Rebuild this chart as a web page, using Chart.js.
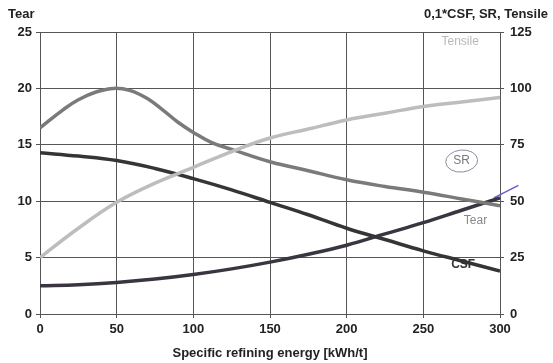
<!DOCTYPE html>
<html><head><meta charset="utf-8">
<script src="https://cdn.jsdelivr.net/npm/chart.js@4"></script>
<style>html,body{margin:0;padding:0;background:#fff}#wrap{width:553px;height:363px}</style>
</head><body><div id="wrap"><canvas id="c" width="553" height="363"></canvas></div>
<script>
const energy = [0,25,50,75,100,125,150,175,200,225,250,275,300];
const tear    = [14.3,14.0,13.6,12.9,12.0,11.0,9.9,8.8,7.6,6.6,5.6,4.7,3.8];
const csf01   = [12.5,13,14,15.5,17.5,20,23,26.5,30.5,35.5,40.5,46,51.5];
const tensile = [25,38,49.5,58,65,72,78,82,86,89,92,94,96];
const srEnergy = [0,15,25,37,48,59,70,80,90,100,112,125,150,175,200,225,250,275,300];
const sr       = [82.5,90.5,95,98.5,100,99,95.5,90.5,85,80.5,76,73,67.5,63.5,59.5,56.5,54,51,48];
const penX = [296,312];
const penY = [51.5,57];
const xTicks = [0,50,100,150,200,250,300];
const leftTicks = [0,5,10,15,20,25];
const rightTicks = [0,25,50,75,100,125];

const pts = (xs, ys) => xs.map((x,i)=>({x, y: ys[i]}));
const FONT = "'Liberation Sans', Arial, sans-serif";

const labels = {
  id:'labels',
  afterDatasetsDraw(chart){
    const {ctx, scales:{x,y,y1}} = chart;
    ctx.save();
    ctx.textAlign='center'; ctx.textBaseline='middle';
    ctx.font = `12px ${FONT}`;
    ctx.fillStyle='#b8b8b8';
    ctx.fillText('Tensile', x.getPixelForValue(274), y1.getPixelForValue(120.5));
    ctx.fillStyle='#777';
    ctx.fillText('SR', x.getPixelForValue(275), y1.getPixelForValue(67.8));
    ctx.strokeStyle='#8a8aa0'; ctx.lineWidth=1;
    ctx.beginPath();
    ctx.ellipse(x.getPixelForValue(275), y1.getPixelForValue(67.8), 16, 11, -0.1, 0, Math.PI*2);
    ctx.stroke();
    ctx.fillStyle='#888';
    ctx.fillText('Tear', x.getPixelForValue(284), y.getPixelForValue(8.3));
    ctx.font = `bold 12px ${FONT}`;
    ctx.fillStyle='#333';
    ctx.fillText('CSF', x.getPixelForValue(276), y.getPixelForValue(4.4));
    ctx.font = `bold 13px ${FONT}`;
    ctx.fillStyle='#222';
    ctx.textAlign='left';
    ctx.fillText('Tear', 8, 14);
    ctx.textAlign='right';
    ctx.fillText('0,1*CSF, SR, Tensile', 548, 14);
    ctx.restore();
  }
};

new Chart(document.getElementById('c'), {
  type:'line',
  data:{datasets:[
    {label:'Tensile', data:pts(energy,tensile), yAxisID:'y1', borderColor:'#bdbdbd', borderWidth:3.5},
    {label:'SR', data:pts(srEnergy,sr), yAxisID:'y1', borderColor:'#7a7a7a', borderWidth:3.5},
    {label:'Tear', data:pts(energy,tear), yAxisID:'y', borderColor:'#353535', borderWidth:3.5},
    {label:'0,1*CSF', data:pts(energy,csf01), yAxisID:'y1', borderColor:'#3a3540', borderWidth:3.5},
    {label:'pen', data:pts(penX,penY), yAxisID:'y1', borderColor:'#6a5ad0', borderWidth:1.5, clip:false, tension:0}
  ]},
  options:{
    responsive:false, animation:false,
    layout:{padding:{top:32,left:0,right:0,bottom:0}},
    elements:{point:{radius:0}, line:{tension:0.4}},
    plugins:{legend:{display:false}, tooltip:{enabled:false}},
    scales:{
      x:{type:'linear', min:0, max:300,
        afterBuildTicks:s=>{s.ticks=xTicks.map(v=>({value:v}));},
        afterFit:s=>{s.height=49;},
        grid:{color:'#555', lineWidth:1, tickLength:4, drawTicks:true},
        border:{color:'#555'},
        ticks:{color:'#222', font:{family:FONT, size:13, weight:'bold'}, padding:4, maxRotation:0},
        title:{display:true, text:'Specific refining energy [kWh/t]', color:'#222', font:{family:FONT, size:13, weight:'bold'}, padding:{top:0,bottom:2}}
      },
      y:{position:'left', min:0, max:25,
        afterBuildTicks:s=>{s.ticks=leftTicks.map(v=>({value:v}));},
        afterFit:s=>{s.width=40;},
        grid:{color:'#555', lineWidth:1, tickLength:4},
        border:{color:'#555'},
        ticks:{color:'#222', font:{family:FONT, size:13, weight:'bold'}, padding:4}
      },
      y1:{position:'right', min:0, max:125,
        afterBuildTicks:s=>{s.ticks=rightTicks.map(v=>({value:v}));},
        afterFit:s=>{s.width=53;},
        grid:{drawOnChartArea:false, color:'#555', tickLength:4},
        border:{color:'#555'},
        ticks:{color:'#222', font:{family:FONT, size:13, weight:'bold'}, padding:6}
      }
    }
  },
  plugins:[labels]
});
</script></body></html>
